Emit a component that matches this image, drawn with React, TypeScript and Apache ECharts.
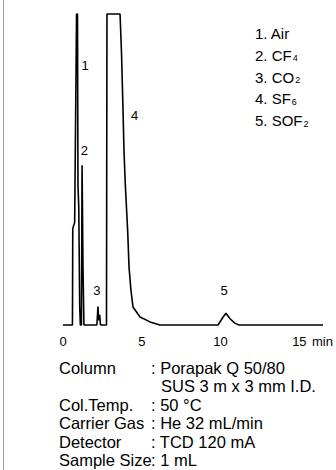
import React, { useEffect, useRef } from "react";
import * as echarts from "echarts";

// Chromatogram trace: [time (min), response (% of full scale)]
const trace: [number, number][] = [
  [0, 0], [0.6, 0], [0.62, 31], [0.74, 33], [0.86, 100], [0.92, 100], [0.95, 45],
  [1.0, 38], [1.06, 6], [1.1, 0], [1.17, 0], [1.21, 51.4], [1.27, 18], [1.33, 0],
  [2.15, 0], [2.22, 5.9], [2.27, 1.5], [2.33, 3.3], [2.38, 0], [2.76, 0],
  [2.79, 100], [3.62, 100], [3.71, 88], [3.81, 69], [3.87, 56], [3.95, 45.6],
  [4.11, 29.6], [4.19, 18.6], [4.31, 11.3], [4.44, 5.8], [4.89, 2.6], [5.52, 1],
  [6.15, 0], [9.84, 0], [10.15, 2.5], [10.34, 3.8], [10.6, 2.0], [10.9, 0.6],
  [11.17, 0], [16.5, 0],
];

const xTicks = [0, 5, 10, 15];
const xUnit = "min";

// Peak number labels: [time, response]
const peakNumbers = ["1", "2", "3", "4", "5"];
const peakLabelPos: [number, number][] = [
  [1.4, 83.5], [1.35, 56], [2.15, 11], [4.55, 67.5], [10.23, 11],
];

// Legend of compounds
const compoundNames = ["Air", "CF", "CO", "SF", "SOF"];
const compoundSubs = ["", "4", "2", "6", "2"];

// Analytical conditions
const conditionLabels = ["Column", "", "Col.Temp.", "Carrier Gas", "Detector", "Sample Size"];
const conditionValues = [
  ": Porapak Q 50/80",
  "SUS 3 m x 3 mm I.D.",
  ": 50 °C",
  ": He 32 mL/min",
  ": TCD 120 mA",
  ": 1 mL",
];

const FONT = "'Liberation Sans', Arial, Helvetica, sans-serif";

export default function App() {
  const ref = useRef<HTMLDivElement>(null);

  useEffect(() => {
    document.body.style.margin = "0";
    if (!ref.current) return;
    const chart = echarts.init(ref.current, null, { renderer: "svg" });

    const gridLeft = 63;
    const gridTop = 14;
    const gridW = 260;
    const gridH = 311;
    const xMax = 16.5;
    const yMax = 100;
    const px = (t: number) => gridLeft + (t / xMax) * gridW;
    const py = (v: number) => gridTop + gridH - (v / yMax) * gridH;

    const graphics: any[] = [
      {
        type: "line",
        shape: { x1: 3.5, y1: 0, x2: 3.5, y2: 470 },
        style: { stroke: "#9a9a9a", lineWidth: 1 },
      },
      {
        type: "text",
        x: 312,
        y: 341,
        style: { text: xUnit, fontSize: 13, fontFamily: FONT, fill: "#000", verticalAlign: "middle" },
      },
    ];

    peakNumbers.forEach((n, i) => {
      graphics.push({
        type: "text",
        x: px(peakLabelPos[i][0]),
        y: py(peakLabelPos[i][1]),
        style: { text: n, fontSize: 13, fontFamily: FONT, fill: "#000", align: "center", verticalAlign: "middle" },
      });
    });

    compoundNames.forEach((name, i) => {
      const sub = compoundSubs[i];
      graphics.push({
        type: "text",
        x: 255,
        y: 32 + i * 21.8,
        style: {
          text: `{m|${i + 1}. ${name}}` + (sub ? `{s|${sub}}` : ""),
          fontFamily: FONT,
          fill: "#000",
          verticalAlign: "middle",
          rich: {
            m: { fontSize: 15, fontFamily: FONT, lineHeight: 18, verticalAlign: "bottom", fill: "#000" },
            s: { fontSize: 9, fontFamily: FONT, lineHeight: 18, verticalAlign: "bottom", fill: "#000", padding: [0, 0, 0, 1] },
          },
        },
      });
    });

    const rowY = [368, 385.5, 404.5, 423, 441.5, 460];
    conditionLabels.forEach((lab, i) => {
      const y = rowY[i];
      if (lab) {
        graphics.push({
          type: "text",
          x: 59,
          y,
          style: { text: lab, fontSize: 16.5, fontFamily: FONT, fill: "#000", verticalAlign: "middle" },
        });
      }
      graphics.push({
        type: "text",
        x: lab ? 151 : 161,
        y,
        style: { text: conditionValues[i], fontSize: 16.5, fontFamily: FONT, fill: "#000", verticalAlign: "middle" },
      });
    });

    chart.setOption({
      animation: false,
      grid: { left: gridLeft, top: gridTop, width: gridW, height: gridH, containLabel: false },
      xAxis: {
        type: "value",
        min: 0,
        max: xMax,
        interval: 5,
        axisLine: { show: false },
        axisTick: { show: false },
        splitLine: { show: false },
        axisLabel: {
          margin: 10,
          fontSize: 13,
          fontFamily: FONT,
          color: "#000",
          showMaxLabel: false,
          formatter: (v: number) => (xTicks.includes(v) ? String(v) : ""),
        },
      },
      yAxis: { type: "value", min: 0, max: yMax, show: false },
      series: [
        {
          type: "line",
          data: trace,
          symbol: "none",
          clip: false,
          lineStyle: { color: "#000", width: 1.6 },
        },
      ],
      graphic: graphics,
    });

    return () => chart.dispose();
  }, []);

  return <div ref={ref} style={{ width: 336, height: 470, background: "#fff" }} />;
}
